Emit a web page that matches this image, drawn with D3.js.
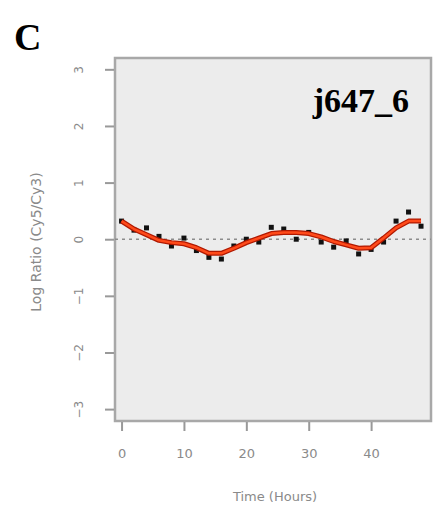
<!DOCTYPE html>
<html>
<head>
<meta charset="utf-8">
<script src="https://cdn.jsdelivr.net/npm/d3@7"></script>
<style>
  body { margin: 0; background: #fff; }
  svg { display: block; }
  .tick text { fill: #8a8a8a; }
</style>
</head>
<body>
<svg id="chart" width="439" height="518"></svg>
<script>
// time points (hours)
const hours = [0, 2, 4, 6, 8, 10, 12, 14, 16, 18, 20, 22, 24, 26, 28, 30, 32, 34, 36, 38, 40, 42, 44, 46, 48];
// observed log ratios
const observed = [0.32, 0.16, 0.20, 0.05, -0.12, 0.02, -0.20, -0.32, -0.35, -0.12, 0.00, -0.05, 0.21,
                  0.18, 0.00, 0.12, -0.05, -0.14, -0.03, -0.26, -0.18, -0.05, 0.32, 0.48, 0.23];
// fitted curve
const fitted = [0.32, 0.18, 0.08, -0.02, -0.06, -0.08, -0.15, -0.25, -0.25, -0.16, -0.06, 0.02, 0.10,
                0.12, 0.12, 0.10, 0.04, -0.04, -0.10, -0.16, -0.15, 0.02, 0.20, 0.32, 0.32];
const xTicks = [0, 10, 20, 30, 40];
const yTicks = [3, 2, 1, 0, -1, -2, -3];
const panelLabel = 'C';
const geneName = 'j647_6';

const svg = d3.select('#chart');
const box = { left: 115, right: 431, top: 58, bottom: 421 };

const x = d3.scaleLinear().domain([-1.05, 49.6]).range([box.left, box.right]);
const y = d3.scaleLinear().domain([-3.21, 3.2]).range([box.bottom, box.top]);

// panel letter
svg.append('text')
    .attr('x', 14).attr('y', 50)
    .attr('font-family', 'Liberation Serif, serif')
    .attr('font-weight', 'bold')
    .attr('font-size', 38)
    .text(panelLabel);

// plot background + frame
svg.append('rect')
    .attr('x', box.left).attr('y', box.top)
    .attr('width', box.right - box.left).attr('height', box.bottom - box.top)
    .attr('fill', '#ececec')
    .attr('stroke', '#a8a8a8')
    .attr('stroke-width', 2.5);

// axes
const xAxis = d3.axisBottom(x).tickValues(xTicks).tickSize(9).tickPadding(18);
const yAxis = d3.axisLeft(y).tickValues(yTicks).tickFormat(d3.format('d')).tickSize(9).tickPadding(22);

const xg = svg.append('g')
    .attr('transform', `translate(0,${box.bottom + 1})`)
    .call(xAxis);
xg.select('.domain').remove();
xg.selectAll('.tick line').attr('stroke', '#999').attr('stroke-width', 2);
xg.selectAll('.tick text')
    .attr('font-family', 'DejaVu Sans, sans-serif')
    .attr('font-size', 13);

const yg = svg.append('g')
    .attr('transform', `translate(${box.left - 1},0)`)
    .call(yAxis);
yg.select('.domain').remove();
yg.selectAll('.tick line').attr('stroke', '#999').attr('stroke-width', 2);
yg.selectAll('.tick text')
    .attr('font-family', 'DejaVu Sans, sans-serif')
    .attr('font-size', 12)
    .attr('text-anchor', 'middle')
    .attr('dy', 0)
    .attr('transform', function() {
        const tx = d3.select(this).attr('x');
        return `rotate(-90, ${tx}, 0)`;
    })
    .attr('y', 0);

// axis titles
svg.append('text')
    .attr('transform', 'translate(41,242) rotate(-90)')
    .attr('text-anchor', 'middle')
    .attr('font-family', 'DejaVu Sans, sans-serif')
    .attr('font-size', 14)
    .attr('fill', '#8a8a8a')
    .text('Log Ratio (Cy5/Cy3)');

svg.append('text')
    .attr('x', 275).attr('y', 501)
    .attr('text-anchor', 'middle')
    .attr('font-family', 'DejaVu Sans, sans-serif')
    .attr('font-size', 13)
    .attr('fill', '#8a8a8a')
    .text('Time (Hours)');

// zero reference line
svg.append('line')
    .attr('x1', box.left).attr('x2', box.right)
    .attr('y1', y(0)).attr('y2', y(0))
    .attr('stroke', '#8c8c8c')
    .attr('stroke-width', 1.5)
    .attr('stroke-dasharray', '3,4');

// gene name
svg.append('text')
    .attr('x', 409).attr('y', 112)
    .attr('text-anchor', 'end')
    .attr('font-family', 'Liberation Serif, serif')
    .attr('font-weight', 'bold')
    .attr('font-size', 34)
    .text(geneName);

const pts = hours.map((h, i) => ({ t: h, obs: observed[i], fit: fitted[i] }));

// observed points
svg.append('g').selectAll('rect')
    .data(pts)
    .join('rect')
    .attr('x', d => x(d.t) - 2.5)
    .attr('y', d => y(d.obs) - 2.5)
    .attr('width', 5).attr('height', 5)
    .attr('fill', '#111');

// fitted line
const line = d3.line()
    .x(d => x(d.t))
    .y(d => y(d.fit));

svg.append('path')
    .datum(pts)
    .attr('fill', 'none')
    .attr('stroke', '#b01800')
    .attr('stroke-width', 5)
    .attr('stroke-linejoin', 'round')
    .attr('d', line);

svg.append('path')
    .datum(pts)
    .attr('fill', 'none')
    .attr('stroke', '#ff4a1a')
    .attr('stroke-width', 2.5)
    .attr('stroke-linejoin', 'round')
    .attr('d', line);
</script>
</body>
</html>
